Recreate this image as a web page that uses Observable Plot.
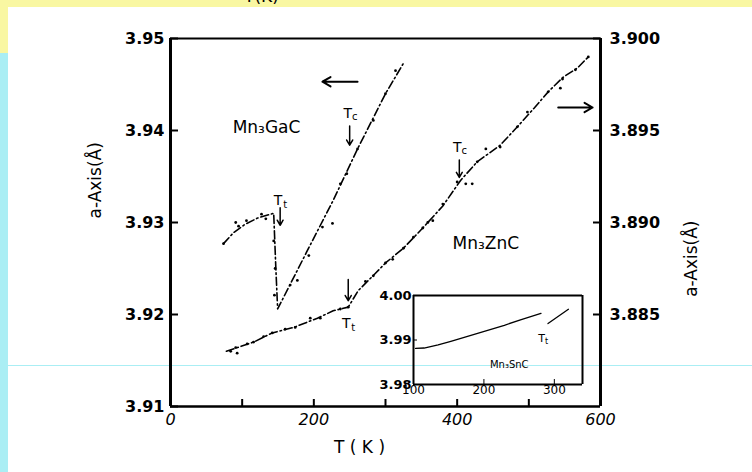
<!DOCTYPE html>
<html>
<head>
<meta charset="utf-8">
<script src="https://cdn.jsdelivr.net/npm/d3@7"></script>
<script src="https://cdn.jsdelivr.net/npm/@observablehq/plot@0.6"></script>
<style>
  html, body { margin: 0; padding: 0; background: #fff; }
  #page { position: relative; width: 752px; height: 472px; overflow: hidden; background: #fff; font-family: "DejaVu Sans", sans-serif; }
  .band-top { position: absolute; left: 0; top: 0; width: 752px; height: 7px; background: #f9f7a2; overflow: hidden; }
  .band-top span { position: absolute; left: 244px; top: -12px; font-size: 17px; line-height: 17px; color: #000; }
  .strip-top { position: absolute; left: 0; top: 0; width: 8px; height: 53px; background: #f9f7a2; }
  .strip { position: absolute; left: 0; top: 53px; width: 8px; height: 419px; background: #aaeef4; }
  .hline { position: absolute; left: 8px; top: 365px; width: 744px; height: 1px; background: #aaeef4; }
  #main, #inset { position: absolute; }
  #main { left: 0; top: 0; }
  #inset { left: 365px; top: 285px; }
  g[aria-label="title"] text { letter-spacing: 1px; }
  g[aria-label="formula"] text { letter-spacing: 2px; }
</style>
</head>
<body>
<div id="page">
  <div class="band-top"><span>T(K)</span></div>
  <div class="strip-top"></div>
  <div class="strip"></div>
  <div class="hline"></div>
  <div id="main"></div>
  <div id="inset"></div>
</div>
<script>
// ---- Lattice parameter a (Å) versus temperature T (K) ----

// Mn3GaC (left axis): smooth curve, sharp drop at Tt, linear rise through Tc
const gaCurve = [[74, 3.9277], [88, 3.9289], [104, 3.9298], [122, 3.9305], [144, 3.9310],
  [147, 3.9250], [149.5, 3.9206], [190, 3.9268], [227, 3.9324], [261, 3.9380], [300, 3.9440], [325, 3.9473]];
const gaPoints = [[74, 3.9277], [91, 3.9300], [95, 3.9296], [106, 3.9302], [127, 3.9309], [133, 3.9304],
  [144, 3.9280], [146, 3.9250], [145, 3.9221], [167, 3.9232], [177, 3.9237], [193, 3.9264], [212, 3.9295],
  [226, 3.9299], [237, 3.9342], [246, 3.9353], [261, 3.9380], [283, 3.9411], [300, 3.9440], [314, 3.9465]];

// Mn3ZnC (right axis)
const znCurve = [[78, 3.8830], [116, 3.8835], [142, 3.8840], [172, 3.8843], [205, 3.8848], [227, 3.8852],
  [248, 3.8854], [262, 3.8863], [285, 3.8872], [300, 3.8878], [325, 3.8886], [352, 3.8897], [380, 3.8909],
  [405, 3.8923], [428, 3.8933], [460, 3.8942], [484, 3.8952], [507, 3.8962], [527, 3.8971], [548, 3.8979],
  [568, 3.8984], [583, 3.8990]];
const znPoints = [[84, 3.8830], [93, 3.8829], [91, 3.8832], [107, 3.8834], [116, 3.8835], [130, 3.8838],
  [142, 3.8840], [160, 3.8842], [174, 3.8843], [195, 3.8848], [209, 3.8848], [237, 3.8853], [248, 3.8854],
  [272, 3.8868], [283, 3.8871], [300, 3.8878], [310, 3.8880], [325, 3.8886], [339, 3.8892], [352, 3.8897],
  [366, 3.8901], [359, 3.8900], [380, 3.8910], [400, 3.8922], [412, 3.8921], [421, 3.8921], [428, 3.8933],
  [440, 3.8940], [460, 3.8941], [484, 3.8952], [498, 3.8960], [527, 3.8971], [544, 3.8973], [547, 3.8978],
  [565, 3.8983], [583, 3.8990]];

// Mn3SnC (inset)
const snCurveLow = [[103, 3.9881], [115, 3.9882], [135, 3.9889], [153, 3.9897], [191, 3.9915], [229, 3.9933], [253, 3.9946], [281, 3.9960]];
const snCurveHigh = [[291, 3.9937], [320, 3.9969]];

// Axes
const tDomain = [0, 600];
const aLeftDomain = [3.91, 3.95];
const aRightDomain = [3.880, 3.900];
const tTicks = [0, 100, 200, 300, 400, 500, 600];
const tLabels = [0, 200, 400, 600];
const aLeftTicks = [3.91, 3.92, 3.93, 3.94, 3.95];
const aRightTicks = [3.885, 3.890, 3.895, 3.900];
const insetTDomain = [100, 340];
const insetADomain = [3.98, 4.00];
const insetTTicks = [100, 200, 300];
const insetATicks = [3.98, 3.99, 4.00];

// Compound names, transition markers and axis-direction arrows (left-axis units)
const formulas = [
  {text: "Mn₃GaC", T: 134, a: 3.9403},
  {text: "Mn₃ZnC", T: 440, a: 3.9277}
];
const transitions = [
  {sub: "c", T: 250, labelA: 3.9419, top: 3.9405, tip: 3.9384},
  {sub: "t", T: 153, labelA: 3.9324, top: 3.9316, tip: 3.9297},
  {sub: "t", T: 248, labelA: 3.9190, top: 3.9238, tip: 3.9215},
  {sub: "c", T: 403, labelA: 3.9382, top: 3.9368, tip: 3.9349}
];
const axisArrows = [
  {from: 261, to: 212, a: 3.9453},
  {from: 541, to: 589, a: 3.9425}
];
const axisTitle = "a-Axis(Å)";
const xTitle = "T ( K )";

// Right-axis values are placed on the left-axis scale
const k = (aLeftDomain[1] - aLeftDomain[0]) / (aRightDomain[1] - aRightDomain[0]);
const toLeft = (a) => aLeftDomain[0] + (a - aRightDomain[0]) * k;
const fromLeft = (y) => aRightDomain[0] + (y - aLeftDomain[0]) / k;

const font = "DejaVu Sans, sans-serif";
const dashDot = "8,3,1.5,3";

const main = Plot.plot({
  width: 752,
  height: 472,
  marginTop: 38,
  marginLeft: 170,
  marginRight: 152,
  marginBottom: 66,
  style: {background: "transparent", fontFamily: font, color: "#000"},
  x: {domain: tDomain, axis: null},
  y: {domain: aLeftDomain, axis: null},
  marks: [
    // left axis: inward ticks, labels
    Plot.axisY({anchor: "left", ticks: aLeftTicks, tickSize: -8, tickPadding: 14, strokeWidth: 2,
      tickFormat: d3.format(".2f"), fontSize: 16, fontWeight: "bold", label: null}),
    // right axis (Mn3ZnC scale)
    Plot.axisY({anchor: "right", ticks: aRightTicks.map(toLeft), tickSize: -8, tickPadding: 17, strokeWidth: 2,
      tickFormat: (d) => fromLeft(d).toFixed(3), fontSize: 16, fontWeight: "bold", label: null}),
    // bottom axis
    Plot.axisX({anchor: "bottom", ticks: tTicks, tickSize: -7, tickPadding: 14, strokeWidth: 2,
      tickFormat: (d) => tLabels.includes(d) ? String(d) : "", fontSize: 16, fontStyle: "italic", label: null}),
    // frame
    Plot.ruleX([tDomain[0]], {strokeWidth: 3}),
    Plot.ruleX([tDomain[1]], {strokeWidth: 3}),
    Plot.ruleY([aLeftDomain[1]], {strokeWidth: 1.8}),
    Plot.ruleY([aLeftDomain[0]], {strokeWidth: 2.6}),
    // axis titles
    Plot.text([axisTitle], {frameAnchor: "left", rotate: -90, dx: -75, dy: -4, fontSize: 17, ariaLabel: "title"}),
    Plot.text([axisTitle], {frameAnchor: "right", rotate: -90, dx: 91, dy: -2, fontSize: 17, ariaLabel: "title"}),
    Plot.text([xTitle], {frameAnchor: "bottom", dx: -26, dy: 46, fontSize: 17, ariaLabel: "title"}),
    // Mn3GaC
    Plot.line(gaCurve, {x: (d) => d[0], y: (d) => d[1], strokeWidth: 1.6, strokeDasharray: dashDot}),
    Plot.dot(gaPoints, {x: (d) => d[0], y: (d) => d[1], r: 1.4, fill: "#000"}),
    // Mn3ZnC
    Plot.line(znCurve, {x: (d) => d[0], y: (d) => toLeft(d[1]), strokeWidth: 1.6, strokeDasharray: dashDot}),
    Plot.dot(znPoints, {x: (d) => d[0], y: (d) => toLeft(d[1]), r: 1.4, fill: "#000"}),
    // labels
    Plot.text(formulas, {x: "T", y: "a", text: "text", fontSize: 17, ariaLabel: "formula"}),
    Plot.text(transitions, {x: "T", y: "labelA", text: () => "T", fontSize: 14, dx: -2}),
    Plot.text(transitions, {x: "T", y: "labelA", text: "sub", fontSize: 10, dx: 5, dy: 4}),
    Plot.arrow(transitions, {x1: "T", x2: "T", y1: "top", y2: "tip", strokeWidth: 1.5, headLength: 6}),
    Plot.arrow(axisArrows, {x1: "from", x2: "to", y1: "a", y2: "a", strokeWidth: 2, headLength: 7})
  ]
});
document.getElementById("main").append(main);

const inset = Plot.plot({
  width: 230,
  height: 130,
  marginTop: 10,
  marginLeft: 48,
  marginRight: 13,
  marginBottom: 31,
  style: {background: "transparent", fontFamily: font, color: "#000"},
  x: {domain: insetTDomain, axis: null},
  y: {domain: insetADomain, axis: null},
  marks: [
    Plot.ruleX([insetTDomain[0]], {strokeWidth: 2}),
    Plot.ruleX([insetTDomain[1]], {strokeWidth: 2}),
    Plot.ruleY([insetADomain[0]], {strokeWidth: 2}),
    Plot.ruleY([insetADomain[1]], {strokeWidth: 2}),
    Plot.axisY({anchor: "left", ticks: insetATicks, tickSize: -4, tickPadding: 6, tickFormat: d3.format(".2f"), fontSize: 13, fontWeight: "bold", label: null}),
    Plot.axisX({anchor: "bottom", ticks: insetTTicks, tickSize: -5, tickPadding: 6, tickFormat: d3.format("d"), fontSize: 12, label: null}),
    Plot.line(snCurveLow, {x: (d) => d[0], y: (d) => d[1], strokeWidth: 1.3}),
    Plot.line(snCurveHigh, {x: (d) => d[0], y: (d) => d[1], strokeWidth: 1.3}),
    Plot.text([{T: 236, a: 3.9845}], {x: "T", y: "a", text: () => "Mn₃SnC", fontSize: 10}),
    Plot.text([{T: 282, a: 3.9904}], {x: "T", y: "a", text: () => "T", fontSize: 11}),
    Plot.text([{T: 282, a: 3.9904}], {x: "T", y: "a", text: () => "t", fontSize: 8, dx: 5, dy: 3})
  ]
});
document.getElementById("inset").append(inset);
</script>
</body>
</html>
